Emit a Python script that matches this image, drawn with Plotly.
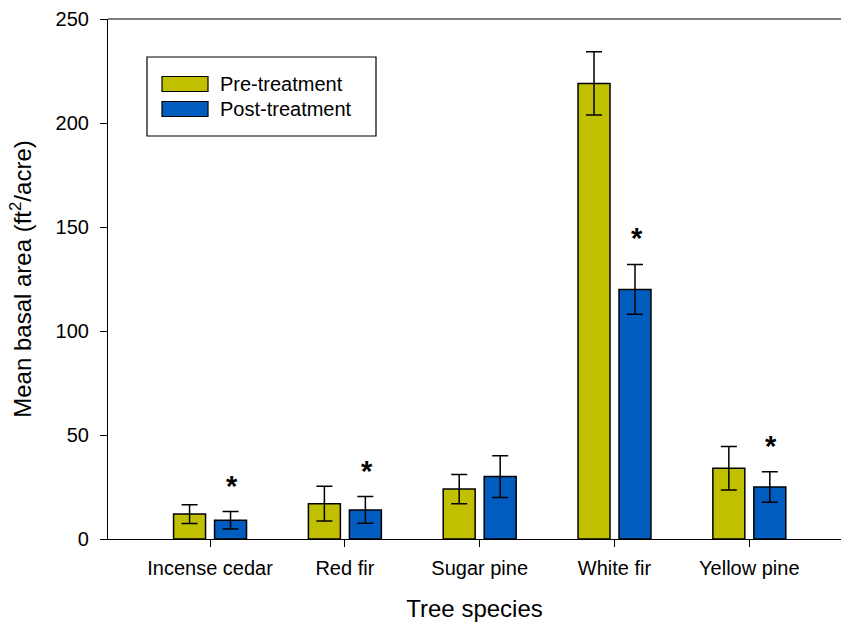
import plotly.graph_objects as go

# Mean basal area by species, before and after treatment (ft^2/acre)
species = ["Incense cedar", "Red fir", "Sugar pine", "White fir", "Yellow pine"]
pre_mean = [12, 17, 24, 219, 34]
pre_err = [4.5, 8.4, 7, 15.2, 10.5]
post_mean = [9, 14, 30, 120, 25]
post_err = [4.2, 6.4, 10, 12, 7.3]
post_significant = [True, True, False, True, True]

PRE_COLOR = "#C0C000"
POST_COLOR = "#005CBF"
FONT = "Liberation Sans, Arial, sans-serif"

W, H = 841, 626
ML, MR, MT, MB = 108, 0, 19, 87
PW, PH = W - ML - MR, H - MT - MB

fig = go.Figure()
for name, vals, errs, color in [
    ("Pre-treatment", pre_mean, pre_err, PRE_COLOR),
    ("Post-treatment", post_mean, post_err, POST_COLOR),
]:
    fig.add_trace(go.Bar(
        x=species, y=vals, name=name,
        marker=dict(color=color, line=dict(color="black", width=1.5)),
        error_y=dict(type="data", array=errs, visible=True,
                     color="black", thickness=1.5, width=8),
        showlegend=False,
    ))

# Significance markers above post-treatment bars
for i, sig in enumerate(post_significant):
    if sig:
        fig.add_annotation(
            x=species[i], y=post_mean[i] + post_err[i], xref="x", yref="y",
            text="<b>*</b>", showarrow=False, xshift=22, yshift=8,
            yanchor="bottom", font=dict(family=FONT, size=29, color="black"),
        )

# Legend box drawn in paper space
def px_x(p):
    return (p - ML) / PW

def px_y(p):
    return (H - MB - p) / PH

fig.add_shape(type="rect", xref="paper", yref="paper",
              x0=px_x(147), x1=px_x(376), y0=px_y(136), y1=px_y(57),
              line=dict(color="black", width=1.2), fillcolor="white")
for (label, color, cy) in [("Pre-treatment", PRE_COLOR, 84), ("Post-treatment", POST_COLOR, 109)]:
    fig.add_shape(type="rect", xref="paper", yref="paper",
                  x0=px_x(162), x1=px_x(208), y0=px_y(cy + 7.5), y1=px_y(cy - 7.5),
                  line=dict(color="black", width=1.2), fillcolor=color)
    fig.add_annotation(x=px_x(218), y=px_y(cy), xref="paper", yref="paper",
                       text=label, showarrow=False, xanchor="left", yanchor="middle",
                       font=dict(family=FONT, size=20, color="black"))

fig.update_layout(
    width=W, height=H,
    margin=dict(l=ML, r=MR, t=MT, b=MB),
    paper_bgcolor="white", plot_bgcolor="white",
    barmode="group", bargap=0.392, bargroupgap=0.22,
    font=dict(family=FONT, size=20, color="black"),
)
fig.update_xaxes(
    range=[-0.757, 4.68], showline=True, linecolor="black", linewidth=1.2,
    mirror=False, ticks="outside", ticklen=7, tickcolor="black", tickwidth=1.2,
    showgrid=False, zeroline=False,
    title=dict(text="Tree species", font=dict(size=24), standoff=22),
    tickfont=dict(size=20), ticklabelstandoff=4,
)
fig.update_yaxes(
    range=[0, 250], tickvals=[0, 50, 100, 150, 200, 250],
    showline=True, linecolor="black", linewidth=1.2,
    ticks="outside", ticklen=7, tickcolor="black", tickwidth=1.2,
    showgrid=False, zeroline=False,
    title=dict(text="Mean basal area (ft<sup>2</sup>/acre)", font=dict(size=24), standoff=17),
    tickfont=dict(size=20), ticklabelstandoff=7,
)
# Top border line across the plot area
fig.add_shape(type="line", xref="paper", yref="paper", x0=0, x1=1, y0=1, y1=1,
              line=dict(color="black", width=1.2))

fig.write_html("out.html")
